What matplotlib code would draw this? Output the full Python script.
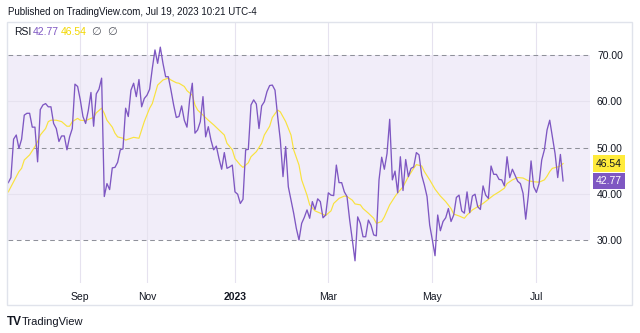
import matplotlib
matplotlib.use("Agg")
import matplotlib.pyplot as plt
from matplotlib.patches import Rectangle
import matplotlib.transforms as mtransforms

# ---------------- data ----------------
rsi = [42.4, 43.5, 51.8, 52.7, 49.8, 51.8, 57.0, 57.4, 57.4, 54.4,
       54.4, 46.9, 58.2, 59.2, 59.5, 58.8, 58.8, 55.2, 54.1, 51.3,
       52.5, 52.5, 49.5, 52.3, 54.1, 63.7, 63.2, 60.3, 56.7, 55.2,
       58.0, 61.9, 54.6, 61.6, 62.6, 65.0, 39.4, 42.2, 40.9, 45.6,
       45.7, 46.8, 49.5, 49.7, 58.5, 56.7, 62.4, 63.9, 61.0, 64.7,
       58.8, 60.6, 61.3, 62.6, 67.1, 71.1, 68.2, 71.7, 68.2, 65.3,
       65.3, 62.4, 59.2, 56.5, 56.7, 59.0, 55.9, 54.4, 60.3, 63.9,
       53.1, 53.8, 55.6, 61.0, 52.3, 54.5, 51.6, 49.5, 50.3, 47.6,
       45.3, 48.9, 45.5, 45.8, 46.2, 40.4, 39.9, 37.9, 38.8, 49.5,
       49.6, 59.2, 60.3, 59.4, 54.1, 59.0, 59.9, 62.1, 63.4, 63.5,
       62.4, 56.7, 51.6, 43.7, 50.2, 41.5, 38.6, 35.8, 32.5, 30.0,
       33.6, 34.9, 36.5, 34.7, 38.3, 36.6, 38.9, 38.3, 34.8, 35.4,
       40.2, 39.7, 39.6, 46.2, 42.4, 42.4, 40.4, 39.4, 34.3, 30.0,
       25.5, 35.0, 33.6, 30.7, 30.7, 34.3, 33.2, 31.1, 30.9, 43.0,
       47.9, 45.3, 48.7, 56.1, 43.0, 44.9, 40.2, 48.0, 40.7, 47.4,
       43.7, 45.5, 45.8, 48.9, 48.4, 44.0, 41.9, 39.4, 33.2, 30.0,
       26.6, 35.4, 32.0, 34.0, 34.8, 36.8, 34.0, 35.4, 39.2, 39.7,
       36.3, 35.8, 40.4, 35.9, 39.5, 39.9, 37.2, 36.6, 41.7, 39.7,
       39.0, 46.0, 44.2, 44.2, 43.1, 43.0, 41.7, 48.0, 43.5, 45.3,
       44.0, 42.7, 42.2, 40.1, 34.5, 39.7, 47.1, 41.5, 40.3, 42.2,
       47.3, 49.5, 53.8, 55.9, 52.3, 48.7, 43.5, 48.5, 42.77]

ma_bars = [0, 2, 4, 5, 6, 8, 10, 11, 12, 14, 15, 16, 18, 20, 22, 23, 24, 26, 27, 29,
           31, 32, 33, 35, 36, 37, 39, 40, 41, 43, 44, 46, 47, 49, 50, 51, 53, 54, 56, 58,
           60, 61, 63, 64, 66, 67, 69, 70, 71, 73, 75, 77, 79, 81, 82, 84, 85, 87, 88, 90,
           91, 93, 95, 96, 98, 99, 101, 102, 104, 106, 107, 109, 110, 112, 113, 115, 117, 119, 121, 122,
           124, 126, 127, 129, 130, 132, 133, 135, 137, 138, 140, 141, 143, 145, 146, 148, 150, 152, 153, 155,
           156, 158, 160, 162, 164, 166, 167, 169, 171, 172, 174, 176, 178, 180, 182, 184, 186, 187, 189, 191,
           193, 195, 197, 199, 201, 202, 203, 204, 206, 207, 208]
ma_values = [40.4, 42.6, 44.8, 45.5, 47.3, 48.4, 50.2, 51.3, 52.7, 54.1, 55.6, 55.9, 55.9, 55.6, 54.6, 54.6, 55.6, 56.3, 55.9, 55.8,
             56.3, 56.5, 57.5, 58.5, 57.4, 55.9, 54.4, 53.1, 52.3, 52.0, 51.6, 52.0, 52.2, 52.0, 53.8, 55.6, 58.5, 59.5, 63.5, 64.6,
             65.0, 64.6, 64.0, 63.9, 63.2, 62.3, 61.3, 59.2, 58.1, 57.0, 55.9, 54.9, 53.8, 52.7, 50.9, 49.5, 47.6, 46.2, 45.7, 46.7,
             48.0, 49.1, 50.9, 52.7, 54.6, 56.5, 58.1, 57.7, 55.6, 52.7, 49.5, 46.2, 43.0, 39.7, 37.6, 36.3, 35.8, 35.3, 36.3, 37.9,
             39.0, 39.5, 39.4, 38.6, 37.8, 37.6, 36.8, 35.8, 34.7, 33.6, 34.0, 35.0, 37.6, 39.4, 40.2, 41.5, 43.7, 45.5, 46.3, 46.0,
             44.8, 43.0, 41.0, 39.5, 38.3, 36.8, 35.6, 35.2, 34.7, 35.4, 36.5, 37.2, 37.9, 38.8, 39.7, 40.4, 41.2, 42.2, 43.0, 43.5,
             43.4, 42.8, 42.6, 42.5, 43.0, 43.8, 44.8, 45.5, 45.8, 46.0, 46.54]

month_bars = [27, 52, 85, 120, 159, 198]
month_labels = ["Sep", "Nov", "2023", "Mar", "May", "Jul"]
level_ticks = [30, 40, 50, 60, 70]
band_levels = [30, 70]
dashed_levels = [30, 50, 70]
rsi_last = "42.77"
ma_last = "46.54"

# ---------------- style ----------------
W, H = 640, 333
PURPLE = "#7e57c2"
YELLOW = "#f9e23e"
TEXT = "#131722"
GRID = "#e6e2ef"

plt.rcParams["font.family"] = ["Liberation Sans", "DejaVu Sans"]

fig = plt.figure(figsize=(W / 100, H / 100), dpi=100)
fig.patch.set_facecolor("white")

def fx(px):
    return px / W

def fy(py):
    return 1 - py / H

# frame
fig.patches.append(Rectangle((fx(7), fy(305)), fx(632) - fx(7), fy(22) - fy(305),
                             transform=fig.transFigure, fill=False,
                             edgecolor="#e0e3eb", linewidth=1.0, zorder=0))

ax_left, ax_right, ax_top, ax_bottom = 8, 590, 22, 283
ax = fig.add_axes([fx(ax_left), fy(ax_bottom), fx(ax_right) - fx(ax_left), fy(ax_top) - fy(ax_bottom)])
ax.set_facecolor("none")
for s in ax.spines.values():
    s.set_visible(False)

ax.set_xlim(-0.1, 218.1)
ax.set_ylim(20.7, 77.14)

# band
ax.axhspan(band_levels[0], band_levels[1], color="#f1edf9", zorder=0, lw=0)

# grid
for v in [40, 60]:
    ax.axhline(v, color=GRID, lw=0.8, zorder=1)
for b in month_bars:
    ax.axvline(b, color=GRID, lw=0.8, zorder=1)

for v in dashed_levels:
    ax.axhline(v, color="#8f919a", lw=0.75, ls=(0, (4.5, 3.5)), zorder=2)

bars = list(range(len(rsi)))
ax.plot(ma_bars, ma_values, color=YELLOW, lw=0.85, zorder=3)
ax.plot(bars, rsi, color=PURPLE, lw=0.95, zorder=4)

# ticks
ax.set_xticks(month_bars)
ax.set_xticklabels(month_labels)
for lbl in ax.get_xticklabels():
    if lbl.get_text() == "2023":
        lbl.set_fontweight("bold")
ax.tick_params(axis="x", length=0, pad=6.5, labelsize=7.5, labelcolor=TEXT)
ax.yaxis.tick_right()
ax.set_yticks(level_ticks)
ax.set_yticklabels([f"{v:.2f}" for v in level_ticks])
ax.tick_params(axis="y", length=0, pad=5, labelsize=7.5, labelcolor=TEXT)
for lbl in ax.get_yticklabels():
    lbl.set_horizontalalignment("left")

# badges
trans = mtransforms.blended_transform_factory(fig.transFigure, ax.transData)
ax.text(fx(596), ma_values[-1], ma_last, transform=trans, fontsize=7.5, color=TEXT,
        ha="left", va="center", clip_on=False,
        bbox=dict(boxstyle="square,pad=0.32", fc="#ffeb3b", ec="none"), zorder=6)
ax.text(fx(596), rsi[-1], rsi_last, transform=trans, fontsize=7.5, color="white",
        ha="left", va="center", clip_on=False,
        bbox=dict(boxstyle="square,pad=0.32", fc=PURPLE, ec="none"), zorder=6)

# header
fig.text(fx(8), fy(12), "Published on TradingView.com, Jul 19, 2023 10:21 UTC-4",
         fontsize=7.0, color=TEXT, ha="left", va="center")

# legend row
fig.text(fx(14), fy(32), "RSI", fontsize=7.5, color=TEXT, ha="left", va="center")
fig.text(fx(33), fy(32), rsi_last, fontsize=7.5, color=PURPLE, ha="left", va="center")
fig.text(fx(61), fy(32), ma_last, fontsize=7.5, color="#f2d700", ha="left", va="center")
fig.text(fx(91), fy(32), "\u2205", fontsize=8, color="#555861", ha="left", va="center",
         family=["DejaVu Sans"])
fig.text(fx(107), fy(32), "\u2205", fontsize=8, color="#555861", ha="left", va="center",
         family=["DejaVu Sans"])

# footer logo
fig.text(fx(7), fy(322), "TV", fontsize=8.5, color=TEXT, ha="left", va="center",
         fontweight="bold")
fig.text(fx(22), fy(322), "TradingView", fontsize=8, color=TEXT, ha="left", va="center")

fig.savefig("out.png", dpi=100, facecolor="white")
